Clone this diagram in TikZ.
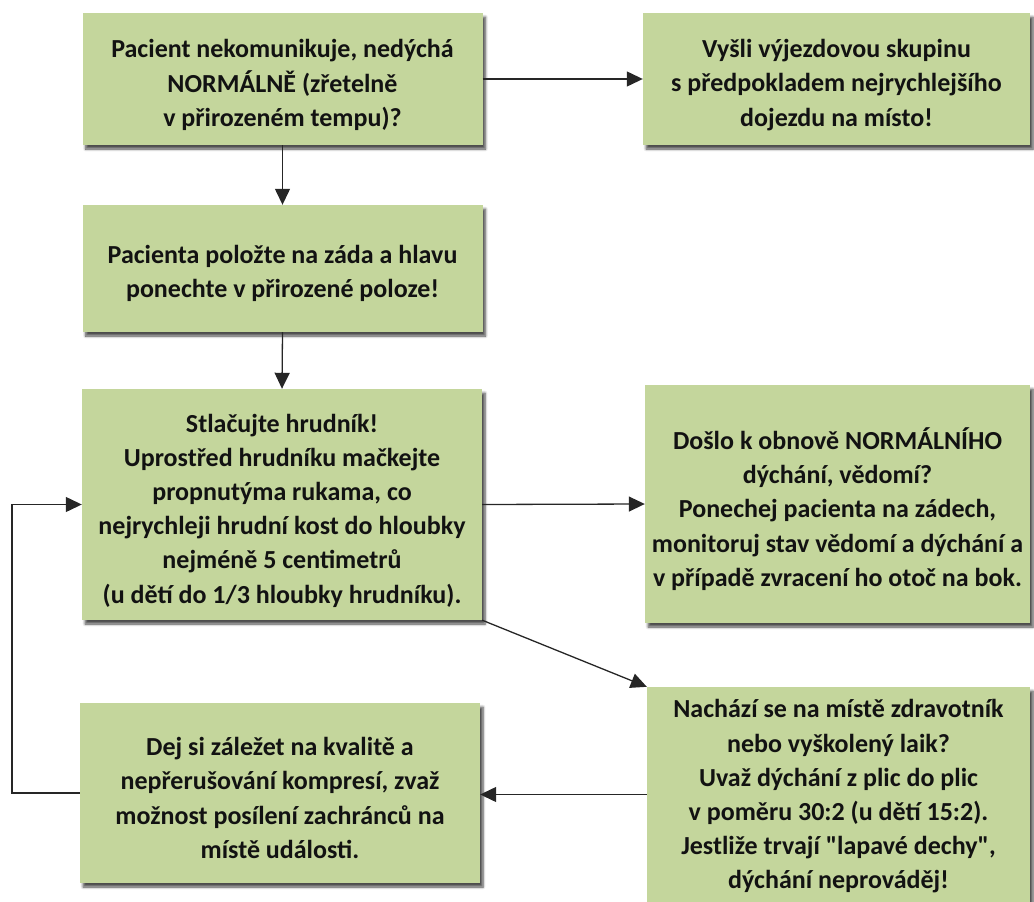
\documentclass[tikz,border=0pt]{standalone}
\usepackage{fontspec}
\setmainfont{Carlito}[Ligatures=TeXOff]
\usetikzlibrary{arrows.meta,shadows.blur}
\definecolor{boxgreen}{RGB}{196,214,156}
\definecolor{inkdark}{RGB}{18,18,18}
\begin{document}
\begin{tikzpicture}[x=1pt,y=-1pt,
  stepbox/.style={rectangle, fill=boxgreen, draw=none, inner sep=0pt,
    blur shadow={shadow xshift=3pt, shadow yshift=-4pt, shadow blur radius=2.5pt,
      shadow blur steps=6, shadow opacity=70}},
  steptext/.style={align=center, inner sep=0pt, text=inkdark,
    font=\fontsize{26}{34.2}\selectfont\bfseries},
  flow/.style={draw=black!85, line width=1.3pt,
    -{Triangle[length=16pt,width=15pt]}}]
\useasboundingbox (0,0) rectangle (1034,902);

% boxes
\node[stepbox, minimum width=400pt, minimum height=132pt] (ask) at (282.5,79) {};
\node[stepbox, minimum width=387pt, minimum height=132pt] (send) at (836.5,79) {};
\node[stepbox, minimum width=400pt, minimum height=127pt] (lay) at (282.5,268.5) {};
\node[stepbox, minimum width=400pt, minimum height=231pt] (press) at (282,504.5) {};
\node[stepbox, minimum width=385pt, minimum height=238pt] (recover) at (837.5,504) {};
\node[stepbox, minimum width=400pt, minimum height=180pt] (quality) at (280,793) {};
\node[stepbox, minimum width=383pt, minimum height=215pt] (helper) at (838.5,794.5) {};

% box texts
\node[steptext] (askt) at ([yshift=-6pt]ask.center)
  {Pacient nekomunikuje, nedýchá\\NORMÁLNĚ (zřetelně\\v přirozeném tempu)?};
\node[steptext] (sendt) at ([yshift=-6pt]send.center)
  {Vyšli výjezdovou skupinu\\s předpokladem nejrychlejšího\\dojezdu na místo!};
\node[steptext] (layt) at ([yshift=-5pt]lay.center)
  {Pacienta položte na záda a hlavu\\ponechte v přirozené poloze!};
\node[steptext] (presst) at ([yshift=-6pt]press.center)
  {Stlačujte hrudník!\\Uprostřed hrudníku mačkejte\\propnutýma rukama, co\\nejrychleji hrudní kost do hloubky\\nejméně 5 centimetrů\\ (u dětí do 1/3 hloubky hrudníku).};
\node[steptext] (recovert) at ([yshift=-5pt]recover.center)
  {Došlo k obnově NORMÁLNÍHO\\dýchání, vědomí?\\Ponechej pacienta na zádech,\\monitoruj stav vědomí a dýchání a\\v případě zvracení ho otoč na bok.};
\node[steptext] (qualityt) at ([yshift=-5pt]quality.center)
  {Dej si záležet na kvalitě a\\nepřerušování kompresí, zvaž\\možnost posílení zachránců na\\místě události.};
\node[steptext] (helpert) at ([yshift=-2pt]helper.center)
  {Nachází se na místě zdravotník\\nebo vyškolený laik?\\Uvaž dýchání z plic do plic\\v poměru 30:2 (u dětí 15:2).\\Jestliže trvají "lapavé dechy",\\dýchání neprováděj!};

\coordinate (loopcorner) at (12,793);

% connectors
\draw[flow] (ask.east) -- (send.west);
\draw[flow] (ask.south) -- (lay.north);
\draw[flow] (lay.south) -- (press.north);
\draw[flow] (press.east) -- (recover.west);
\draw[flow] (press.south east) -- (helper.north west);
\draw[flow] (helper.west) -- (helper.west -| quality.east);
\draw[flow] (quality.west) -- (loopcorner) |- (press.west);
\end{tikzpicture}
\end{document}
